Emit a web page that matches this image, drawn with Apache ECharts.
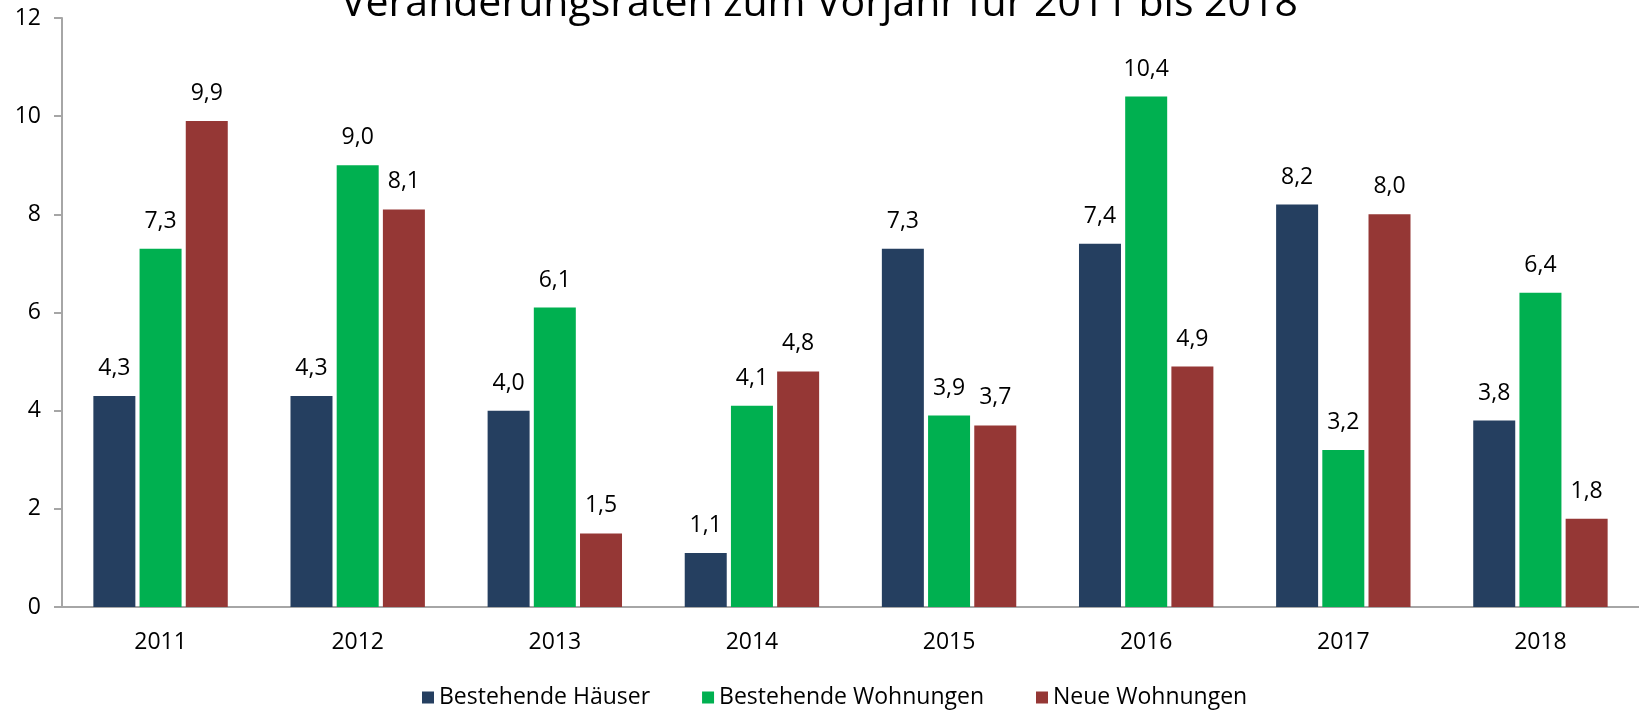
<!DOCTYPE html>
<html>
<head>
<meta charset="utf-8">
<script src="https://cdn.jsdelivr.net/npm/echarts@6/dist/echarts.min.js"></script>
<style>
    html, body { margin: 0; padding: 0; background: #fff; }
    #main { width: 1639px; height: 711px; }
</style>
</head>
<body>
<div id="main"></div>
<script>
    var years = ['2011', '2012', '2013', '2014', '2015', '2016', '2017', '2018'];
    var haeuser = [4.3, 4.3, 4.0, 1.1, 7.3, 7.4, 8.2, 3.8];
    var bestWohnungen = [7.3, 9.0, 6.1, 4.1, 3.9, 10.4, 3.2, 6.4];
    var neueWohnungen = [9.9, 8.1, 1.5, 4.8, 3.7, 4.9, 8.0, 1.8];

    var font = '"Open Sans", sans-serif';
    var myChart = echarts.init(document.getElementById('main'));

    function bar(name, data, color) {
        return {
            name: name,
            type: 'bar',
            data: data,
            barWidth: 42,
            barGap: '10%',
            itemStyle: { color: color },
            label: {
                show: true,
                position: 'top',
                distance: 16,
                color: '#000',
                fontFamily: font,
                fontSize: 23,
                formatter: function (p) { return p.value.toFixed(1).replace('.', ','); }
            }
        };
    }

    var option = {
        animation: false,
        title: {
            text: 'Veränderungsraten zum Vorjahr für 2011 bis 2018',
            left: 'center',
            top: -21,
            textStyle: { fontFamily: font, fontSize: 41, fontWeight: 'normal', color: '#000' }
        },
        legend: {
            bottom: 2,
            left: 422,
            padding: 0,
            itemWidth: 12,
            itemHeight: 12,
            itemGap: 52,
            icon: 'rect',
            textStyle: { fontFamily: font, fontSize: 23, color: '#000' }
        },
        grid: { left: 62, right: 0, top: 18, bottom: 104 },
        xAxis: {
            type: 'category',
            data: years,
            axisLine: { lineStyle: { color: '#a6a6a6', width: 2 } },
            axisTick: { length: 8, lineStyle: { color: '#a6a6a6', width: 2 } },
            axisLabel: { margin: 24, color: '#000', fontFamily: font, fontSize: 23 }
        },
        yAxis: {
            type: 'value',
            min: 0,
            max: 12,
            interval: 2,
            splitLine: { show: false },
            axisLine: { show: true, lineStyle: { color: '#a6a6a6', width: 2 } },
            axisTick: { show: true, length: 8, lineStyle: { color: '#a6a6a6', width: 2 } },
            axisLabel: { margin: 21, color: '#000', fontFamily: font, fontSize: 23 }
        },
        series: [
            bar('Bestehende Häuser', haeuser, '#253F60'),
            bar('Bestehende Wohnungen', bestWohnungen, '#00B050'),
            bar('Neue Wohnungen', neueWohnungen, '#953735')
        ]
    };

    myChart.setOption(option);
</script>
</body>
</html>
